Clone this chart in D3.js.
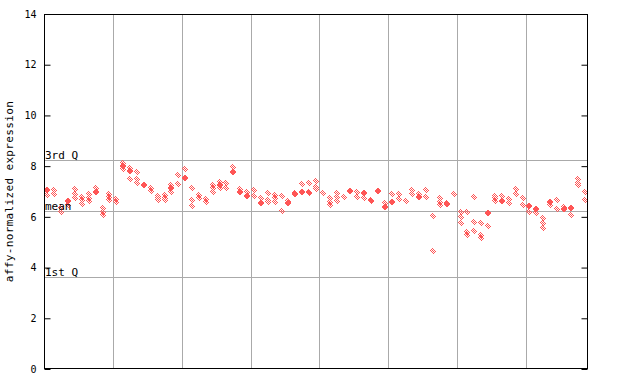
<!DOCTYPE html>
<html><head><meta charset="utf-8">
<script src="https://cdn.jsdelivr.net/npm/d3@7"></script>
<style>body{margin:0;background:#fff}svg{display:block}</style>
</head><body>
<svg id="c" width="640" height="384"></svg>
<script>
// Replicate values per sample (79 samples, in 8 groups)
const sampleValues = [
 [7.06,6.86],[7.06,6.89],[6.34,6.2],[6.62,6.48],[7.09,6.9,6.73],[6.8,6.65,6.52],[6.92,6.76,6.62],[7.0,7.12],[6.34,6.2,6.07],[6.92,6.78,6.65],
 [6.7,6.6],[8.14,8.0,7.88],[7.93,7.82,7.48],[7.75,7.48,7.32],[7.27,7.25],[7.12,7.03],[6.84,6.73,6.66],[6.86,6.76,6.66],[7.26,7.12,6.99],[7.65,7.28],
 [7.88,7.55],[7.12,6.66,6.43],[6.86,6.73],[6.69,6.6],[7.26,7.12,6.97],[7.37,7.25,7.14],[7.32,7.12],[7.98,7.78],[7.09,6.99],[6.99,6.84],
 [7.06,6.82],[6.73,6.56],[6.93,6.66,6.58],[6.86,6.73,6.6],[6.82,6.23],[6.64,6.53],[6.95,6.89],[7.28,6.99],[7.32,6.99,6.93],[7.41,7.19,7.09],
 [6.93],[6.73,6.6,6.47],[6.95,6.8,6.64],[6.77],[7.03],[6.99,6.8],[6.93,6.73],[6.68,6.62],[7.03],[6.53,6.4],
 [6.9,6.6],[6.9,6.69],[6.62],[7.06,6.9],[6.9,6.77],[7.06,6.8],[6.02,4.65],[6.73,6.6,6.47],[6.55,6.5],[6.9],
 [6.2,6.0,5.74],[6.2,5.42,5.3],[6.77,5.81,5.45],[5.74,5.28,5.15],[6.16,5.64],[6.82,6.73,6.64],[6.82,6.64],[6.69,6.53],[7.09,6.9],[6.73,6.47],
 [6.43,6.2],[6.31,6.16],[5.94,5.77,5.55],[6.58,6.47],[6.66,6.3],[6.31,6.4],[6.34,6.07],[7.48,7.35,7.26],[6.97,6.66]
];
// index of the solid (filled) marker in each sample, -1 if none
const solidIndex = [
 0,-1,-1,0,-1,-1,-1,0,-1,-1,
 -1,1,1,-1,0,-1,-1,-1,1,-1,
 1,-1,-1,-1,-1,1,-1,1,1,1,
 -1,1,-1,-1,-1,1,1,1,-1,-1,
 -1,-1,-1,-1,0,-1,0,-1,0,1,
 1,-1,-1,-1,1,-1,-1,-1,1,-1,
 -1,-1,-1,-1,0,-1,1,-1,-1,-1,
 0,0,-1,0,-1,0,0,-1,-1
];
const yTicks = [0,2,4,6,8,10,12,14];
const refLines = [{label:"3rd Q", v:8.24},{label:"mean", v:6.23},{label:"1st Q", v:3.63}];
const groupSize = 10;

const svg = d3.select("#c");
const L=44, R=588, T=14, B=369;
const red = "#ff5555", grid = "#aaaaaa";

const defs = svg.append("defs");
const pat = defs.append("pattern").attr("id","chk").attr("width",2).attr("height",2)
  .attr("patternUnits","userSpaceOnUse");
pat.append("rect").attr("x",0).attr("y",0).attr("width",1).attr("height",1).attr("fill",red);
pat.append("rect").attr("x",1).attr("y",1).attr("width",1).attr("height",1).attr("fill",red);

const x = d3.scaleBand().domain(d3.range(sampleValues.length)).range([L,R]);
const y = d3.scaleLinear().domain([0,14]).range([B,T]);

// vertical group separators
const seps = d3.range(groupSize, sampleValues.length, groupSize);
svg.append("g").selectAll("line").data(seps).join("line")
  .attr("x1",d=>Math.round(x(d))+0.5).attr("x2",d=>Math.round(x(d))+0.5)
  .attr("y1",T).attr("y2",B).attr("stroke",grid).attr("stroke-width",1);

// reference lines
svg.append("g").selectAll("line").data(refLines).join("line")
  .attr("x1",L).attr("x2",R)
  .attr("y1",d=>Math.round(y(d.v))+0.5).attr("y2",d=>Math.round(y(d.v))+0.5)
  .attr("stroke",grid).attr("stroke-width",1);

// points
const pts = [];
sampleValues.forEach((vals,i)=>vals.forEach((v,j)=>pts.push({i,v,solid:solidIndex[i]===j})));
const diamond = "M0,-3.5L3.5,0L0,3.5L-3.5,0Z";
svg.append("g").attr("shape-rendering","crispEdges").selectAll("path").data(pts).join("path")
  .attr("d",diamond)
  .attr("transform",d=>`translate(${Math.round(x(d.i)+x.bandwidth()/2)},${Math.round(y(d.v))})`)
  .attr("fill",d=>d.solid?red:"url(#chk)");

// frame
svg.append("rect").attr("x",L+0.5).attr("y",T+0.5).attr("width",R-L-1).attr("height",B-T-1)
  .attr("fill","none").attr("stroke","#000").attr("stroke-width",1);

// left axis (ticks inside)
const yAxisL = d3.axisLeft(y).tickValues(yTicks).tickSize(-6).tickPadding(8).tickFormat(d3.format("d"));
const gl = svg.append("g").attr("transform",`translate(${L+0.5},0)`).call(yAxisL);
gl.select(".domain").remove();
gl.selectAll("text").attr("font-family","DejaVu Sans Mono").attr("font-size",10).attr("fill","#000");
// right axis ticks inside
const yAxisR = d3.axisRight(y).tickValues(yTicks).tickSize(-6).tickFormat("");
const gr = svg.append("g").attr("transform",`translate(${R-0.5},0)`).call(yAxisR);
gr.select(".domain").remove();

// reference labels
svg.append("g").selectAll("text").data(refLines).join("text")
  .attr("x",L+1).attr("y",d=>Math.round(y(d.v))-1)
  .attr("font-family","DejaVu Sans Mono").attr("font-size",11).attr("fill","#000")
  .text(d=>d.label);

// y label
svg.append("text").attr("transform",`translate(13,${(T+B)/2}) rotate(-90)`)
  .attr("text-anchor","middle").attr("font-family","DejaVu Sans Mono").attr("font-size",11)
  .attr("letter-spacing","0.35").attr("fill","#000").text("affy-normalized expression");
</script>
</body></html>
